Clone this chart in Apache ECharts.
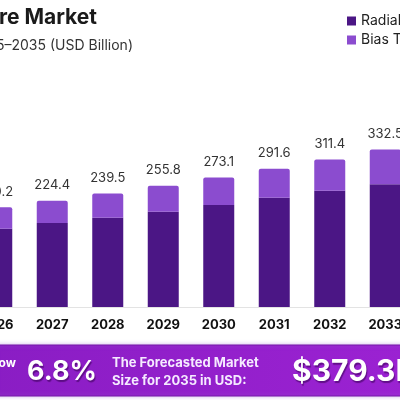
<!DOCTYPE html>
<html>
<head>
<meta charset="utf-8">
<script src="https://cdn.jsdelivr.net/npm/echarts@6/dist/echarts.min.js"></script>
<style>
  html, body { margin: 0; padding: 0; background: #fff; }
  #chart { width: 400px; height: 400px; }
</style>
</head>
<body>
<div id="chart"></div>
<script>
// visible years (chart is cropped on both sides)
const years = ['2026', '2027', '2028', '2029', '2030', '2031', '2032', '2033']
// stacked segments, USD Billion
const radial = [165.0, 177.0, 188.5, 201.0, 215.0, 230.5, 245.0, 259.0]
const biasTube = [45.2, 47.4, 51.0, 54.8, 58.1, 61.1, 66.4, 73.5]
// totals printed above each bar
const totals = ['210.2', '224.4', '239.5', '255.8', '273.1', '291.6', '311.4', '332.5']

const font = 'Inter, "Noto Sans", sans-serif'
const chart = echarts.init(document.getElementById('chart'))

const option = {
  animation: false,
  backgroundColor: '#ffffff',
  grid: { left: -31, right: -13, top: 70, bottom: 93, outerBoundsMode: 'none', containLabel: false },
  legend: {
    orient: 'vertical',
    left: 342,
    top: 8,
    itemWidth: 9,
    itemHeight: 9,
    itemGap: 3,
    icon: 'rect',
    textStyle: { fontFamily: font, fontSize: 14, color: '#222', lineHeight: 16 },
    data: ['Radial', 'Bias Tube']
  },
  xAxis: {
    type: 'category',
    data: years,
    axisLine: { show: true, lineStyle: { color: '#e3e3e3', width: 1 } },
    axisTick: { show: false },
    axisLabel: { fontFamily: font, fontSize: 13, fontWeight: 'bold', color: '#111', margin: 12 }
  },
  yAxis: {
    type: 'value',
    min: 0,
    max: 500,
    show: false
  },
  series: [
    {
      name: 'Radial',
      type: 'bar',
      stack: 'total',
      barWidth: 31,
      itemStyle: { color: '#4b1685' },
      data: radial
    },
    {
      name: 'Bias Tube',
      type: 'bar',
      stack: 'total',
      barWidth: 31,
      itemStyle: { color: '#8b4ccf', borderRadius: [2, 2, 0, 0] },
      label: {
        show: true,
        position: 'top',
        distance: 9,
        fontFamily: font,
        fontSize: 13,
        color: '#333',
        formatter: p => totals[p.dataIndex]
      },
      data: biasTube
    }
  ],
  graphic: [
    {
      type: 'text',
      x: 97, y: 18,
      style: {
        text: 'Tire Market',
        align: 'right',
        verticalAlign: 'middle',
        font: 'bold 21px ' + font,
        fill: '#1a1a1a'
      }
    },
    {
      type: 'text',
      x: 133, y: 46,
      style: {
        text: '2025–2035 (USD Billion)',
        align: 'right',
        verticalAlign: 'middle',
        font: '14px ' + font,
        fill: '#333'
      }
    },
    {
      type: 'rect',
      shape: { x: -5, y: 345, width: 410, height: 51 },
      style: {
        fill: new echarts.graphic.LinearGradient(0, 0, 1, 0, [
          { offset: 0, color: '#8a1dc4' },
          { offset: 1, color: '#9b22d2' }
        ]),
        stroke: '#7417a8',
        lineWidth: 1,
        shadowBlur: 4,
        shadowColor: 'rgba(170,120,220,0.5)'
      }
    },
    {
      type: 'text',
      x: 16, y: 363,
      style: {
        text: 'Grow',
        align: 'right',
        verticalAlign: 'middle',
        font: 'bold 12px ' + font,
        fill: '#fff'
      }
    },
    {
      type: 'text',
      x: 27, y: 372,
      style: {
        text: '6.8%',
        align: 'left',
        verticalAlign: 'middle',
        font: 'bold 27px ' + font,
        fill: '#fff',
        textShadowColor: 'rgba(60,0,90,0.6)',
        textShadowOffsetX: 1,
        textShadowOffsetY: 2,
        textShadowBlur: 1
      }
    },
    {
      type: 'text',
      x: 112, y: 372,
      style: {
        text: 'The Forecasted Market\nSize for 2035 in USD:',
        align: 'left',
        verticalAlign: 'middle',
        font: 'bold 13px ' + font,
        lineHeight: 18,
        fill: '#f5eaff'
      }
    },
    {
      type: 'text',
      x: 292, y: 372,
      style: {
        text: '$379.3B',
        align: 'left',
        verticalAlign: 'middle',
        font: 'bold 30px ' + font,
        fill: '#fff',
        textShadowColor: 'rgba(60,0,90,0.6)',
        textShadowOffsetX: 1,
        textShadowOffsetY: 2,
        textShadowBlur: 1
      }
    }
  ]
}

chart.setOption(option)
</script>
</body>
</html>
